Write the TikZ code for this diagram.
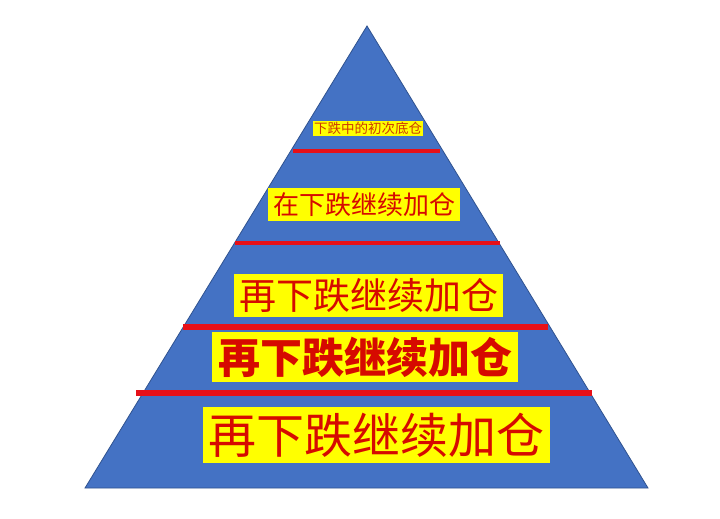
\documentclass[tikz,border=0pt]{standalone}
\usepackage{fontspec}
\newfontfamily\cjk{Noto Sans CJK SC}
\definecolor{pyrblue}{RGB}{68,114,196}
\definecolor{pyredge}{RGB}{47,82,143}
\definecolor{lvlred}{RGB}{230,16,24}
\definecolor{txtred}{RGB}{214,10,0}
\definecolor{toptxt}{RGB}{205,60,0}
\definecolor{boxyel}{RGB}{255,255,0}
\tikzset{
  label box/.style={fill=boxyel, inner sep=0pt, align=center, text=txtred},
  level line/.style={draw=lvlred, line width=#1},
}
\begin{document}
\begin{tikzpicture}[x=1pt,y=-1pt]
\useasboundingbox[fill=white] (0,0) rectangle (720,519);
% pyramid
\coordinate (apex) at (367,26);
\coordinate (bl) at (85,488);
\coordinate (br) at (648,488);
\fill[pyrblue, draw=pyredge, line width=0.8pt] (apex) -- (br) -- (bl) -- cycle;
% level lines
\coordinate (l1a) at (293,151); \coordinate (l1b) at (440,151);
\coordinate (l2a) at (235,243); \coordinate (l2b) at (500,243);
\coordinate (l3a) at (183,326.5); \coordinate (l3b) at (548,326.5);
\coordinate (l4a) at (136,393); \coordinate (l4b) at (592,393);
\draw[level line=4pt] (l1a) -- (l1b);
\draw[level line=4pt] (l2a) -- (l2b);
\draw[level line=6pt] (l3a) -- (l3b);
\draw[level line=6pt] (l4a) -- (l4b);
% labels
\node[label box, text=toptxt, minimum width=110pt, minimum height=15pt,
      font=\cjk\fontsize{13.5}{14}\selectfont] (t1) at (368,128.5) {下跌中的初次底仓};
\node[label box, minimum width=192pt, minimum height=33pt,
      font=\cjk\fontsize{26}{28}\selectfont] (t2) at (364,204.5) {在下跌继续加仓};
\node[label box, minimum width=269pt, minimum height=43pt,
      font=\cjk\fontsize{37}{40}\selectfont] (t3) at (368.5,295.5) {再下跌继续加仓};
\node[label box, minimum width=306pt, minimum height=50pt,
      font=\cjk\bfseries\fontsize{42}{45}\selectfont] (t4) at (365,357) {再下跌继续加仓};
\node[label box, minimum width=347pt, minimum height=56pt,
      font=\cjk\fontsize{48}{50}\selectfont] (t5) at (376.5,435) {再下跌继续加仓};
\end{tikzpicture}
\end{document}
